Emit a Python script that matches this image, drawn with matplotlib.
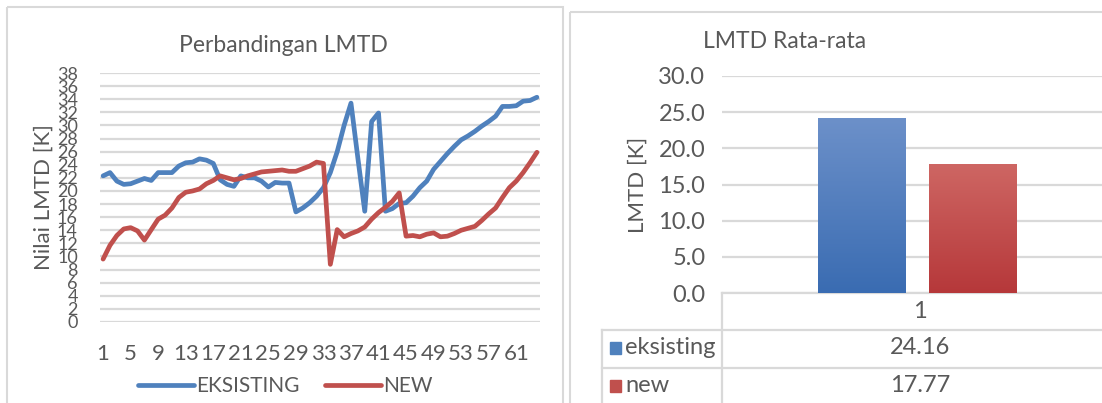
import numpy as np
import matplotlib
matplotlib.use("Agg")
import matplotlib.pyplot as plt
from matplotlib.patches import Rectangle
from matplotlib.colors import LinearSegmentedColormap

plt.rcParams['font.family'] = ['Lato', 'DejaVu Sans']

# LMTD per data point
eksisting = [22.3, 22.8, 21.5, 21.0, 21.1, 21.5, 21.9, 21.6, 22.8, 22.8,
             22.8, 23.8, 24.3, 24.4, 24.9, 24.7, 24.2, 21.7, 21.0, 20.7,
             22.3, 22.0, 22.0, 21.5, 20.6, 21.3, 21.2, 21.2, 16.8, 17.4,
             18.2, 19.2, 20.5, 22.8, 26.0, 30.0, 33.4, 25.0, 16.9, 30.6,
             31.9, 16.9, 17.3, 18.1, 18.2, 19.2, 20.5, 21.5, 23.3,
             24.5, 25.7, 26.8, 27.8, 28.4, 29.1, 29.9, 30.6, 31.4, 32.9,
             32.9, 33.0, 33.7, 33.8, 34.3]
new = [9.6, 11.7, 13.2, 14.2, 14.4, 13.9, 12.5, 14.1, 15.7, 16.3,
       17.4, 19.0, 19.8, 20.0, 20.3, 21.1, 21.6, 22.3, 22.0, 21.7,
       21.9, 22.3, 22.6, 22.9, 23.0, 23.1, 23.2, 23.0, 23.0, 23.4,
       23.8, 24.4, 24.2, 8.8, 14.1, 13.0, 13.5, 13.9, 14.5, 15.7,
       16.7, 17.5, 18.4, 19.7, 13.1, 13.2, 13.0, 13.4, 13.6,
       13.0, 13.1, 13.5, 14.0, 14.3, 14.6, 15.5, 16.5, 17.4, 19.0,
       20.5, 21.5, 22.8, 24.3, 25.9]
titik = np.arange(1, len(eksisting) + 1)

# rata-rata
seri_rata = ['eksisting', 'new']
nilai_rata = [24.16, 17.77]

BIRU = '#4F81BD'
MERAH = '#C0504D'
ABU = '#595959'
GRID = '#D9D9D9'

W, H = 1102, 403
fig = plt.figure(figsize=(W / 100, H / 100), dpi=100)


def kotak(x0, y0, x1, y1):
    return [x0 / W, 1 - y1 / H, (x1 - x0) / W, (y1 - y0) / H]


# lapisan latar untuk bingkai dan tabel
bg = fig.add_axes([0, 0, 1, 1], zorder=-1)
bg.set_xlim(0, W)
bg.set_ylim(H, 0)
bg.axis('off')
bg.add_patch(Rectangle((7, 7), 556, 420, fill=False, ec=GRID, lw=1.5))
bg.add_patch(Rectangle((570, 12), 560, 420, fill=False, ec=GRID, lw=1.5))

# ---- grafik garis ----
ax = fig.add_axes(kotak(100, 73, 540, 322))
ax.patch.set_alpha(0)
ax.plot(titik, eksisting, color=BIRU, lw=3.4, solid_joinstyle='round',
        solid_capstyle='round', label='EKSISTING')
ax.plot(titik, new, color=MERAH, lw=3.4, solid_joinstyle='round',
        solid_capstyle='round', label='NEW')
ax.set_xlim(0.55, len(titik) + 0.45)
ax.set_ylim(0, 38)
ax.set_yticks(np.arange(0, 39, 2))
ax.set_xticks(titik[::4])
ax.grid(axis='y', color=GRID, lw=1.6)
ax.set_axisbelow(True)
for s in ax.spines.values():
    s.set_visible(False)
ax.tick_params(length=0, colors=ABU)
ax.tick_params(axis='y', labelsize=13, pad=16)
ax.tick_params(axis='x', labelsize=16, pad=16)
ax.set_ylabel('Nilai LMTD [K]', color=ABU, fontsize=16, labelpad=2)
bg.text(283, 45, 'Perbandingan LMTD', ha='center', va='center', color=ABU,
        fontsize=16.5)
fig.legend(loc='center', bbox_to_anchor=(285 / W, 1 - 386 / H), ncol=2,
           frameon=False, fontsize=15, handlelength=2.7, columnspacing=1.2,
           handletextpad=0.1, labelcolor=ABU)

# ---- grafik batang ----
bx = fig.add_axes(kotak(722, 76, 1102, 293))
bx.patch.set_alpha(0)
pos = [-0.145, 0.145]
batang = bx.bar(pos, nilai_rata, width=0.229, color=[BIRU, MERAH], zorder=2)
gradasi = [('#6C90C9', '#3A6CB2'), ('#CE6663', '#B6383A')]
for p, (atas, bawah) in zip(batang, gradasi):
    x0, y0 = p.get_x(), p.get_y()
    cmap = LinearSegmentedColormap.from_list('g', [bawah, atas])
    bx.imshow(np.linspace(0, 1, 100).reshape(-1, 1), cmap=cmap, origin='lower',
              extent=(x0, x0 + p.get_width(), y0, y0 + p.get_height()),
              aspect='auto', zorder=3)
bx.set_xlim(-0.513, 0.487)
bx.set_ylim(0, 30)
bx.set_yticks(np.arange(0, 31, 5))
bx.set_yticklabels([f'{v:.1f}' for v in np.arange(0, 31, 5)])
bx.set_xticks([])
bx.grid(axis='y', color=GRID, lw=1.6)
bx.set_axisbelow(True)
for s in bx.spines.values():
    s.set_visible(False)
bx.tick_params(length=0, colors=ABU, labelsize=17, pad=12)
bx.set_ylabel('LMTD [K]', color=ABU, fontsize=16, labelpad=8)
bg.text(785, 42, 'LMTD Rata-rata', ha='center', va='center', color=ABU,
        fontsize=16.5)

# tabel data di bawah grafik batang
for y, xa in [(293, 722), (330, 602), (368, 602)]:
    bg.plot([xa, W], [y, y], color=GRID, lw=1.6)
bg.plot([722, 722], [293, H], color=GRID, lw=1.6)
bg.plot([602, 602], [330, H], color=GRID, lw=1.6)
bg.text(920, 311, '1', ha='center', va='center', color=ABU, fontsize=17)
for y, nama, v, c in zip([348, 386], seri_rata, nilai_rata, [BIRU, MERAH]):
    bg.add_patch(Rectangle((610, y - 6), 11, 12, color=c))
    bg.text(625, y, nama, ha='left', va='center', color=ABU, fontsize=17)
    bg.text(920, y, f'{v:.2f}', ha='center', va='center', color=ABU, fontsize=17)

fig.savefig('out.png', dpi=100)
